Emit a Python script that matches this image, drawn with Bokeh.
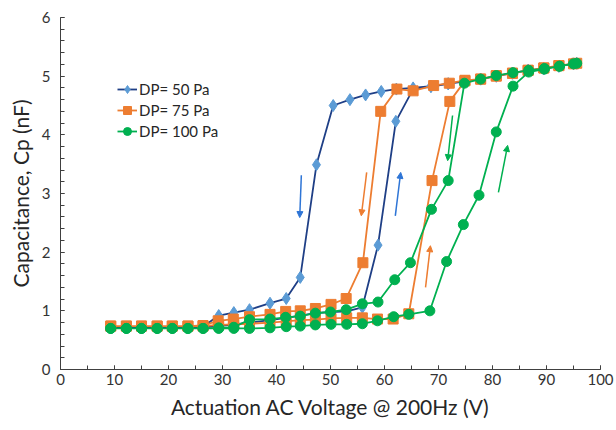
from bokeh.plotting import figure
from bokeh.models import Legend, LegendItem, Arrow, NormalHead, Range1d, SingleIntervalTicker
from bokeh.embed import file_html
from bokeh.resources import INLINE

# ---- data (voltage in V, capacitance in nF) ----
v50_up = [9.3, 12.2, 15.0, 17.9, 20.7, 23.6, 26.4, 29.3, 32.1, 35.0, 38.8, 41.8, 44.4, 47.2, 50.1,
          53.0, 55.9, 58.8, 62.1, 65.3, 68.6, 71.8, 74.8, 77.8, 80.7, 83.7, 86.6, 89.5, 92.3, 95.6]
c50_up = [0.71, 0.71, 0.71, 0.71, 0.71, 0.72, 0.72, 0.74, 0.77, 0.80, 0.84, 0.88, 0.92, 0.96, 0.98,
          0.99, 1.06, 2.12, 4.23, 4.78, 4.82, 4.87, 4.91, 4.95, 5.00, 5.05, 5.10, 5.13, 5.17, 5.22]
v50_down = [95.0, 92.3, 89.5, 86.6, 83.7, 80.7, 77.8, 74.8, 71.8, 68.6, 65.3, 62.2, 59.4, 56.5, 53.6,
            50.5, 47.4, 44.4, 41.8, 38.8, 35.0, 32.1, 29.3, 26.4, 23.6, 20.7, 17.9, 15.0, 12.2, 9.3]
c50_down = [5.21, 5.17, 5.13, 5.10, 5.05, 5.00, 4.95, 4.91, 4.87, 4.83, 4.80, 4.78, 4.74, 4.68, 4.60,
            4.50, 3.49, 1.57, 1.21, 1.13, 1.02, 0.97, 0.92, 0.73, 0.72, 0.72, 0.71, 0.71, 0.71, 0.71]

v75_up = [9.3, 12.2, 15.0, 17.9, 20.7, 23.6, 26.4, 29.3, 32.1, 35.0, 38.8, 41.8, 44.4, 47.2, 50.1,
          53.0, 55.9, 58.7, 61.6, 64.5, 68.8, 72.1, 74.9, 77.8, 80.7, 83.7, 86.6, 89.5, 92.3, 95.6]
c75_up = [0.74, 0.74, 0.74, 0.74, 0.74, 0.74, 0.74, 0.76, 0.77, 0.78, 0.80, 0.82, 0.84, 0.85, 0.87,
          0.88, 0.88, 0.86, 0.86, 0.95, 3.22, 4.57, 4.92, 4.95, 5.00, 5.05, 5.10, 5.14, 5.18, 5.22]
v75_down = [95.0, 92.3, 89.5, 86.6, 83.7, 80.7, 77.8, 74.9, 72.0, 69.1, 65.3, 62.3, 59.3, 56.0, 52.9,
            50.1, 47.2, 44.4, 41.7, 38.8, 35.0, 32.0, 29.2, 26.4, 23.6, 20.7, 17.9, 15.0, 12.2, 9.3]
c75_down = [5.21, 5.18, 5.14, 5.10, 5.05, 5.01, 4.95, 4.93, 4.88, 4.84, 4.75, 4.78, 4.40, 1.82, 1.21,
            1.11, 1.04, 1.00, 0.99, 0.94, 0.90, 0.86, 0.83, 0.75, 0.74, 0.74, 0.74, 0.74, 0.74, 0.74]

v100_up = [9.3, 12.2, 15.0, 17.9, 20.7, 23.6, 26.4, 29.3, 32.1, 35.0, 38.8, 41.8, 44.4, 47.2, 50.1,
           53.0, 55.9, 58.7, 61.7, 64.5, 68.4, 71.5, 74.6, 77.5, 80.7, 83.8, 86.7, 89.6, 92.4, 95.6]
c100_up = [0.70, 0.70, 0.70, 0.70, 0.70, 0.70, 0.70, 0.70, 0.70, 0.70, 0.71, 0.73, 0.74, 0.76, 0.77,
           0.77, 0.78, 0.83, 0.90, 0.94, 1.00, 1.84, 2.47, 2.97, 4.05, 4.83, 5.07, 5.12, 5.17, 5.22]
v100_down = [95.0, 92.4, 89.6, 86.7, 83.8, 80.7, 77.8, 74.8, 71.8, 68.7, 64.8, 61.9, 58.8, 55.9, 52.9,
             50.0, 47.2, 44.4, 41.7, 38.8, 35.0, 32.1, 29.3, 26.4, 23.6, 20.7, 17.9, 15.0, 12.2, 9.3]
c100_down = [5.21, 5.17, 5.13, 5.10, 5.06, 5.01, 4.95, 4.88, 3.22, 2.73, 1.82, 1.53, 1.15, 1.12, 1.02,
             0.98, 0.96, 0.91, 0.89, 0.86, 0.85, 0.72, 0.71, 0.70, 0.70, 0.70, 0.70, 0.70, 0.70, 0.70]

series_labels = ["DP= 50 Pa", "DP= 75 Pa", "DP= 100 Pa"]

# direction arrows (x0, y0, x1, y1 in data units), colours per series
arrow_x0 = [44.6, 62.0, 56.7, 67.6, 72.6, 81.1]
arrow_y0 = [3.31, 2.62, 3.36, 1.40, 4.33, 3.02]
arrow_x1 = [44.3, 63.0, 55.7, 68.5, 71.7, 82.8]
arrow_y1 = [2.59, 3.36, 2.62, 2.11, 3.56, 3.82]
arrow_series = [0, 0, 1, 1, 2, 2]

FONT = "Lato"
line_colors = ["#1F3F86", "#ED7D31", "#00B050"]
marker_colors = ["#5B9BD5", "#ED7D31", "#00B050"]
markers = ["diamond", "square", "circle"]
marker_sizes = [12, 10, 10]

p = figure(width=616, height=430, output_backend="svg", toolbar_location=None,
           x_range=Range1d(0, 100), y_range=Range1d(0, 6),
           min_border_left=60, min_border_right=16, min_border_top=17, min_border_bottom=61)
p.outline_line_color = None
p.xgrid.visible = False
p.ygrid.visible = False
p.background_fill_color = "white"

series = [(v50_up + v50_down, c50_up + c50_down),
          (v75_up + v75_down, c75_up + c75_down),
          (v100_up + v100_down, c100_up + c100_down)]

items = []
for i, (xs, ys) in enumerate(series):
    r1 = p.line(xs, ys, line_color=line_colors[i], line_width=1.8)
    r2 = p.scatter(xs, ys, marker=markers[i], size=marker_sizes[i],
                   fill_color=marker_colors[i], line_color=marker_colors[i])
    items.append(LegendItem(label=series_labels[i], renderers=[r1, r2]))

for k in range(len(arrow_x0)):
    c = ["#2E75D6", "#ED7D31", "#00B050"][arrow_series[k]]
    p.add_layout(Arrow(x_start=arrow_x0[k], y_start=arrow_y0[k], x_end=arrow_x1[k], y_end=arrow_y1[k],
                       line_color=c, line_width=1.5,
                       end=NormalHead(size=6, fill_color=c, line_color=c)))

legend = Legend(items=items, location=(57, 228), border_line_color=None,
                background_fill_alpha=0, label_text_font=FONT, label_text_font_size="15px",
                label_text_color="#262626", glyph_width=20, glyph_height=20, label_height=20,
                label_standoff=2, spacing=1, padding=0, margin=0)
p.add_layout(legend)

p.xaxis.ticker = SingleIntervalTicker(interval=10, num_minor_ticks=2)
p.yaxis.ticker = SingleIntervalTicker(interval=1, num_minor_ticks=5)
for ax in (p.xaxis, p.yaxis):
    ax.axis_line_color = "#404040"
    ax.major_tick_line_color = "#404040"
    ax.minor_tick_line_color = "#404040"
    ax.major_tick_in = 4
    ax.major_tick_out = 0
    ax.minor_tick_in = 4
    ax.minor_tick_out = 0
    ax.major_label_text_font = FONT
    ax.major_label_text_font_size = "15px"
    ax.major_label_text_color = "#333333"
    ax.axis_label_text_font = FONT
    ax.axis_label_text_font_size = "21px"
    ax.axis_label_text_font_style = "normal"
    ax.axis_label_text_color = "#262626"

p.xaxis.axis_label = "Actuation AC Voltage @ 200Hz (V)"
p.yaxis.axis_label = "Capacitance, Cp (nF)"
p.xaxis.major_label_standoff = 4
p.yaxis.major_label_standoff = 10
p.xaxis.axis_label_standoff = 6
p.yaxis.axis_label_standoff = 6

open("out.html", "w").write(file_html(p, INLINE))
